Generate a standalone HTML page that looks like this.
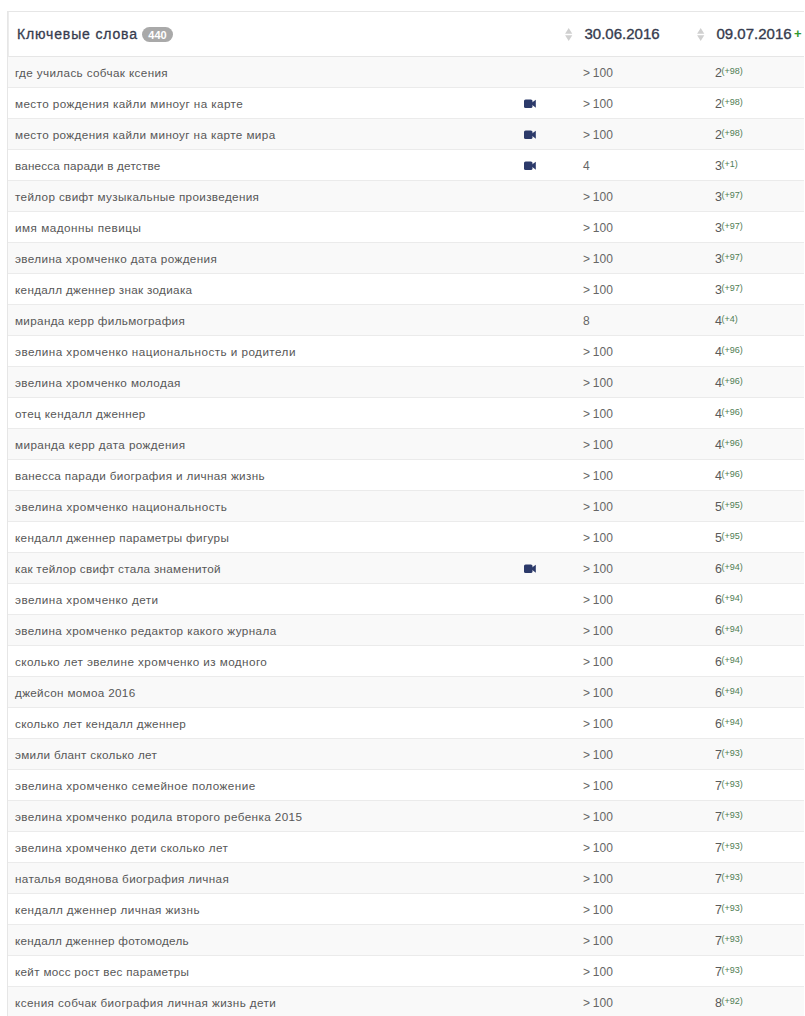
<!DOCTYPE html>
<html lang="ru"><head><meta charset="utf-8"><title>Ключевые слова</title>
<style>
*{margin:0;padding:0;box-sizing:border-box}
html,body{width:805px;height:1016px;overflow:hidden;background:#fff}
body{font-family:"Liberation Sans",Arial,sans-serif;position:relative}
.tbl{position:absolute;left:7px;top:11px;width:797px;border:1px solid #e6e6e6;border-bottom:0;border-right:0}
.hd{position:relative;height:45px;border-bottom:1px solid #e6e6e6;border-left:1px solid #ececec;background:#fff;color:#363b4e}
.hd .kw{position:absolute;left:8px;top:0;line-height:44px;font-size:14px;letter-spacing:0.85px;-webkit-text-stroke:0.3px #363b4e;white-space:nowrap}
.badge{position:absolute;left:125px;top:15px;width:31px;height:15px;border-radius:8px;background:#a9a9a9;color:#fff;font-size:11px;font-weight:bold;line-height:17px;text-align:center;letter-spacing:0;-webkit-text-stroke:0}
.hd .c2{position:absolute;left:556px;top:0;height:44px}
.hd .c3{position:absolute;left:688px;top:0;height:44px}
.sort{position:absolute;left:0;top:0;width:10px;height:44px;fill:#d0d0d0}
.dt{position:absolute;left:19.5px;top:0;line-height:44px;font-size:15px;-webkit-text-stroke:0.35px #363b4e;white-space:nowrap}
.plus{position:absolute;left:97px;top:0;line-height:44px;font-size:13px;font-weight:bold;color:#2f9a2f}
.r{position:relative;height:31px;border-bottom:1px solid #ebebeb;background:#fff;font-size:12.5px;line-height:30px;white-space:nowrap}
.r.odd{background:#f9f9f9}
.r .k{position:absolute;left:7px;top:1px;color:#575757;font-size:11.7px;letter-spacing:0.45px}
.r .a{position:absolute;left:575px;top:1px;color:#666;font-size:12px;word-spacing:-0.5px}
.r .b{position:absolute;left:707px;top:1px;color:#5a5a5a}
.r sup{font-size:9px;color:#4f7d54;vertical-align:baseline;position:relative;top:-3px;margin-left:-0.5px}
.cam{position:absolute;left:515.5px;top:10.8px;fill:#2c3a6a}
</style></head><body>
<div class="tbl">
<div class="hd"><div class="kw">Ключевые слова <span class="badge">440</span></div><div class="c2"><svg class="sort" viewBox="0 0 10 44"><path d="M0.1 21.7 L3.7 16 L7.3 21.7 Z M0.1 23.2 L7.3 23.2 L3.7 28.9 Z"/></svg><span class="dt">30.06.2016</span></div><div class="c3"><svg class="sort" viewBox="0 0 10 44"><path d="M0.1 21.7 L3.7 16 L7.3 21.7 Z M0.1 23.2 L7.3 23.2 L3.7 28.9 Z"/></svg><span class="dt">09.07.2016</span><span class="plus">+</span></div></div>
<div class="r odd"><span class="k" style="letter-spacing:0.366px">где училась собчак ксения</span><span class="a">&gt; 100</span><span class="b">2<sup>(+98)</sup></span></div>
<div class="r"><span class="k" style="letter-spacing:0.399px">место рождения кайли миноуг на карте</span><svg class="cam" width="13" height="10" viewBox="0 0 13 10"><rect x="0" y="0.4" width="8.5" height="8.6" rx="1.6"/><path d="M8 3.6 L11.8 0.7 L11.8 8.7 L8 5.8 Z"/></svg><span class="a">&gt; 100</span><span class="b">2<sup>(+98)</sup></span></div>
<div class="r odd"><span class="k" style="letter-spacing:0.391px">место рождения кайли миноуг на карте мира</span><svg class="cam" width="13" height="10" viewBox="0 0 13 10"><rect x="0" y="0.4" width="8.5" height="8.6" rx="1.6"/><path d="M8 3.6 L11.8 0.7 L11.8 8.7 L8 5.8 Z"/></svg><span class="a">&gt; 100</span><span class="b">2<sup>(+98)</sup></span></div>
<div class="r"><span class="k" style="letter-spacing:0.192px">ванесса паради в детстве</span><svg class="cam" width="13" height="10" viewBox="0 0 13 10"><rect x="0" y="0.4" width="8.5" height="8.6" rx="1.6"/><path d="M8 3.6 L11.8 0.7 L11.8 8.7 L8 5.8 Z"/></svg><span class="a">4</span><span class="b">3<sup>(+1)</sup></span></div>
<div class="r odd"><span class="k" style="letter-spacing:0.35px">тейлор свифт музыкальные произведения</span><span class="a">&gt; 100</span><span class="b">3<sup>(+97)</sup></span></div>
<div class="r"><span class="k" style="letter-spacing:0.512px">имя мадонны певицы</span><span class="a">&gt; 100</span><span class="b">3<sup>(+97)</sup></span></div>
<div class="r odd"><span class="k" style="letter-spacing:0.396px">эвелина хромченко дата рождения</span><span class="a">&gt; 100</span><span class="b">3<sup>(+97)</sup></span></div>
<div class="r"><span class="k" style="letter-spacing:0.316px">кендалл дженнер знак зодиака</span><span class="a">&gt; 100</span><span class="b">3<sup>(+97)</sup></span></div>
<div class="r odd"><span class="k" style="letter-spacing:0.329px">миранда керр фильмография</span><span class="a">8</span><span class="b">4<sup>(+4)</sup></span></div>
<div class="r"><span class="k" style="letter-spacing:0.458px">эвелина хромченко национальность и родители</span><span class="a">&gt; 100</span><span class="b">4<sup>(+96)</sup></span></div>
<div class="r odd"><span class="k" style="letter-spacing:0.404px">эвелина хромченко молодая</span><span class="a">&gt; 100</span><span class="b">4<sup>(+96)</sup></span></div>
<div class="r"><span class="k" style="letter-spacing:0.366px">отец кендалл дженнер</span><span class="a">&gt; 100</span><span class="b">4<sup>(+96)</sup></span></div>
<div class="r odd"><span class="k" style="letter-spacing:0.406px">миранда керр дата рождения</span><span class="a">&gt; 100</span><span class="b">4<sup>(+96)</sup></span></div>
<div class="r"><span class="k" style="letter-spacing:0.355px">ванесса паради биография и личная жизнь</span><span class="a">&gt; 100</span><span class="b">4<sup>(+96)</sup></span></div>
<div class="r odd"><span class="k" style="letter-spacing:0.467px">эвелина хромченко национальность</span><span class="a">&gt; 100</span><span class="b">5<sup>(+95)</sup></span></div>
<div class="r"><span class="k" style="letter-spacing:0.344px">кендалл дженнер параметры фигуры</span><span class="a">&gt; 100</span><span class="b">5<sup>(+95)</sup></span></div>
<div class="r odd"><span class="k" style="letter-spacing:0.286px">как тейлор свифт стала знаменитой</span><svg class="cam" width="13" height="10" viewBox="0 0 13 10"><rect x="0" y="0.4" width="8.5" height="8.6" rx="1.6"/><path d="M8 3.6 L11.8 0.7 L11.8 8.7 L8 5.8 Z"/></svg><span class="a">&gt; 100</span><span class="b">6<sup>(+94)</sup></span></div>
<div class="r"><span class="k" style="letter-spacing:0.459px">эвелина хромченко дети</span><span class="a">&gt; 100</span><span class="b">6<sup>(+94)</sup></span></div>
<div class="r odd"><span class="k" style="letter-spacing:0.399px">эвелина хромченко редактор какого журнала</span><span class="a">&gt; 100</span><span class="b">6<sup>(+94)</sup></span></div>
<div class="r"><span class="k" style="letter-spacing:0.43px">сколько лет эвелине хромченко из модного</span><span class="a">&gt; 100</span><span class="b">6<sup>(+94)</sup></span></div>
<div class="r odd"><span class="k" style="letter-spacing:0.324px">джейсон момоа 2016</span><span class="a">&gt; 100</span><span class="b">6<sup>(+94)</sup></span></div>
<div class="r"><span class="k" style="letter-spacing:0.332px">сколько лет кендалл дженнер</span><span class="a">&gt; 100</span><span class="b">6<sup>(+94)</sup></span></div>
<div class="r odd"><span class="k" style="letter-spacing:0.302px">эмили блант сколько лет</span><span class="a">&gt; 100</span><span class="b">7<sup>(+93)</sup></span></div>
<div class="r"><span class="k" style="letter-spacing:0.45px">эвелина хромченко семейное положение</span><span class="a">&gt; 100</span><span class="b">7<sup>(+93)</sup></span></div>
<div class="r odd"><span class="k" style="letter-spacing:0.405px">эвелина хромченко родила второго ребенка 2015</span><span class="a">&gt; 100</span><span class="b">7<sup>(+93)</sup></span></div>
<div class="r"><span class="k" style="letter-spacing:0.384px">эвелина хромченко дети сколько лет</span><span class="a">&gt; 100</span><span class="b">7<sup>(+93)</sup></span></div>
<div class="r odd"><span class="k" style="letter-spacing:0.349px">наталья водянова биография личная</span><span class="a">&gt; 100</span><span class="b">7<sup>(+93)</sup></span></div>
<div class="r"><span class="k" style="letter-spacing:0.429px">кендалл дженнер личная жизнь</span><span class="a">&gt; 100</span><span class="b">7<sup>(+93)</sup></span></div>
<div class="r odd"><span class="k" style="letter-spacing:0.29px">кендалл дженнер фотомодель</span><span class="a">&gt; 100</span><span class="b">7<sup>(+93)</sup></span></div>
<div class="r"><span class="k" style="letter-spacing:0.303px">кейт мосс рост вес параметры</span><span class="a">&gt; 100</span><span class="b">7<sup>(+93)</sup></span></div>
<div class="r odd"><span class="k" style="letter-spacing:0.399px">ксения собчак биография личная жизнь дети</span><span class="a">&gt; 100</span><span class="b">8<sup>(+92)</sup></span></div>
</div>
</body></html>
